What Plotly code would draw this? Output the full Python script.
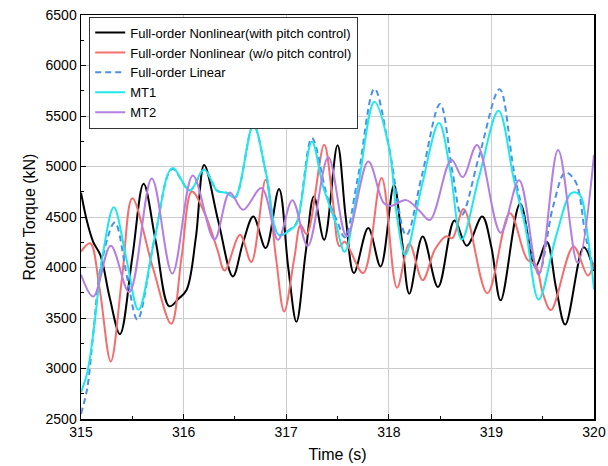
import plotly.graph_objects as go

# ---- data (time in s, torque in kN) ----
t_black = [315.0, 315.06, 315.12, 315.19, 315.28, 315.38, 315.5, 315.61, 315.73, 315.86, 315.95, 316.03, 316.12, 316.2,
           316.34, 316.48, 316.58, 316.68, 316.8, 316.93, 317.02, 317.1, 317.19, 317.27, 317.37, 317.5, 317.58, 317.66, 317.8,
           317.92, 318.05, 318.13, 318.2, 318.33, 318.48, 318.64, 318.76, 318.91, 319.0, 319.09, 319.28, 319.43,
           319.54, 319.63, 319.72, 319.9, 320.0]
v_black = [4740, 4450, 4250, 4120, 3700, 3340, 4100, 4828, 4250, 3616, 3690, 3780, 4300, 5015,
           4450, 3912, 4250, 4505, 4192, 4778, 4000, 3462, 4150, 4703, 4274, 5210, 4500, 3945, 4390,
           4011, 4818, 4250, 3741, 4308, 3807, 4466, 4215, 4505, 4200, 3675, 4630, 4011,
           4255, 3800, 3435, 4200, 3965]

t_red = [315.0, 315.09, 315.18, 315.29, 315.4, 315.5, 315.7, 315.88, 315.98, 316.08, 316.2, 316.33, 316.4, 316.55,
         316.66, 316.8, 316.9, 316.98, 317.08, 317.14, 317.2, 317.37, 317.45, 317.52, 317.57, 317.75, 317.93,
         318.08, 318.2, 318.33, 318.45, 318.56, 318.62, 318.73, 318.96, 319.18, 319.35, 319.43, 319.5, 319.58,
         319.8, 319.94, 320.0]
v_red = [4158, 4240, 3800, 3070, 3900, 4685, 4000, 3443, 4100, 4752, 4550, 4175, 3970, 4324,
         4055, 4870, 4100, 3565, 4100, 4420, 4330, 5215, 4700, 4210, 4255, 3945, 4885,
         3800, 4235, 3875, 4180, 4310, 4290, 4580, 3745, 4537, 4077, 4030, 3750, 3578,
         4208, 3920, 4050]

t_lin = [315.0, 315.06, 315.12, 315.2, 315.33, 315.45, 315.55, 315.72, 315.89, 316.06, 316.2, 316.33, 316.42,
         316.5, 316.68, 316.8, 316.93, 317.04, 317.1, 317.25, 317.4, 317.5, 317.57, 317.7, 317.86, 318.0,
         318.17, 318.32, 318.5, 318.62, 318.71, 318.88, 319.08, 319.22, 319.33, 319.46, 319.6, 319.72,
         319.82, 319.92, 320.0]
v_lin = [2550, 2800, 3350, 4050, 4445, 3900, 3483, 4300, 4975, 4765, 4965, 4760, 4740,
         4690, 5410, 4950, 4320, 4380, 4440, 5280, 4700, 4450, 4300, 4900, 5770, 5200,
         4320, 4900, 5620, 4950, 4520, 5100, 5765, 4950, 4450, 3940, 4600, 4940,
         4850, 4300, 3980]

t_mt1 = [315.0, 315.06, 315.12, 315.22, 315.32, 315.44, 315.56, 315.72, 315.89, 316.06, 316.2, 316.33, 316.42,
         316.5, 316.68, 316.8, 316.93, 317.04, 317.1, 317.25, 317.36, 317.48, 317.57, 317.7, 317.86, 318.0,
         318.08, 318.16, 318.32, 318.49, 318.6, 318.71, 318.88, 319.07, 319.22, 319.33, 319.46, 319.63,
         319.78, 319.86, 319.94, 320.0]
v_mt1 = [2766, 2955, 3350, 4175, 4597, 4100, 3581, 4300, 4984, 4762, 4970, 4755, 4740,
         4690, 5412, 4950, 4320, 4373, 4430, 5246, 4800, 4450, 4155, 4800, 5641, 5200,
         4500, 4125, 4800, 5430, 4950, 4276, 4900, 5552, 4865, 4406, 3683, 4308,
         4737, 4720, 4300, 3782]

t_mt2 = [315.0, 315.12, 315.29, 315.47, 315.69, 315.89, 316.09, 316.3, 316.45, 316.58, 316.76, 316.92, 317.06,
         317.21, 317.41, 317.59, 317.8, 317.95, 318.02, 318.17, 318.3, 318.4, 318.61, 318.72, 318.86, 319.09,
         319.27, 319.46, 319.65, 319.84, 320.0]
v_mt2 = [3930, 3713, 4215, 3755, 4880, 3940, 4912, 4278, 4743, 4571, 4786, 4274, 4667,
         4212, 5092, 4309, 5049, 4640, 4610, 4667, 4560, 4470, 5066, 4895, 5214, 4345,
         4864, 3930, 5164, 4045, 5115]

series_names = ["Full-order Nonlinear(with pitch control)", "Full-order Nonlinear (w/o pitch control)",
                "Full-order Linear", "MT1", "MT2"]

x_ticks = [315, 316, 317, 318, 319, 320]
y_ticks = [2500, 3000, 3500, 4000, 4500, 5000, 5500, 6000, 6500]

fig = go.Figure()

styles = [
    (t_black, v_black, dict(color="#000000", width=2)),
    (t_red, v_red, dict(color="#f46e6e", width=2)),
    (t_lin, v_lin, dict(color="#4a90e8", width=2, dash="6px,4px")),
    (t_mt1, v_mt1, dict(color="#1ee8ec", width=2)),
    (t_mt2, v_mt2, dict(color="#b57ee0", width=2)),
]
for name, (tx, vy, ln) in zip(series_names, styles):
    ln = dict(ln, shape="spline", smoothing=1.0)
    fig.add_trace(go.Scatter(x=tx, y=vy, mode="lines", name=name, line=ln))

font_family = "Liberation Sans, Arial, sans-serif"

fig.update_layout(
    width=608, height=466,
    margin=dict(l=81, r=14, t=15, b=47, autoexpand=False),
    paper_bgcolor="white", plot_bgcolor="white",
    font=dict(family=font_family, color="black"),
    showlegend=True,
    legend=dict(x=0.016, y=0.996, xanchor="left", yanchor="top",
                bgcolor="white", bordercolor="#333333", borderwidth=1,
                font=dict(size=13, family=font_family), tracegroupgap=0,
                itemwidth=30),
)
fig.update_xaxes(
    range=[315, 320], tickvals=x_ticks, ticktext=[str(v) for v in x_ticks],
    showline=True, linecolor="black", linewidth=1.5, mirror=True,
    ticks="inside", ticklen=5, tickcolor="black",
    minor=dict(dtick=0.5, ticks="inside", ticklen=3, tickcolor="black", showgrid=False),
    showgrid=True, gridcolor="#cccccc", gridwidth=1,
    tickfont=dict(size=14), zeroline=False, automargin=False,
    title=dict(text="Time (s)", font=dict(size=16), standoff=9),
)
fig.update_yaxes(
    range=[2500, 6500], tickvals=y_ticks, ticktext=[str(v) for v in y_ticks],
    showline=True, linecolor="black", linewidth=1.5, mirror=True,
    ticks="inside", ticklen=5, tickcolor="black",
    minor=dict(dtick=250, ticks="inside", ticklen=3, tickcolor="black", showgrid=False),
    showgrid=True, gridcolor="#cccccc", gridwidth=1,
    tickfont=dict(size=14), zeroline=False, automargin=False,
    title=dict(text="Rotor Torque (kN)", font=dict(size=16), standoff=6),
)

fig.write_html("out.html", config={"displayModeBar": False, "staticPlot": True},
               post_script="document.body.style.margin='0';document.body.style.overflow='hidden';")
